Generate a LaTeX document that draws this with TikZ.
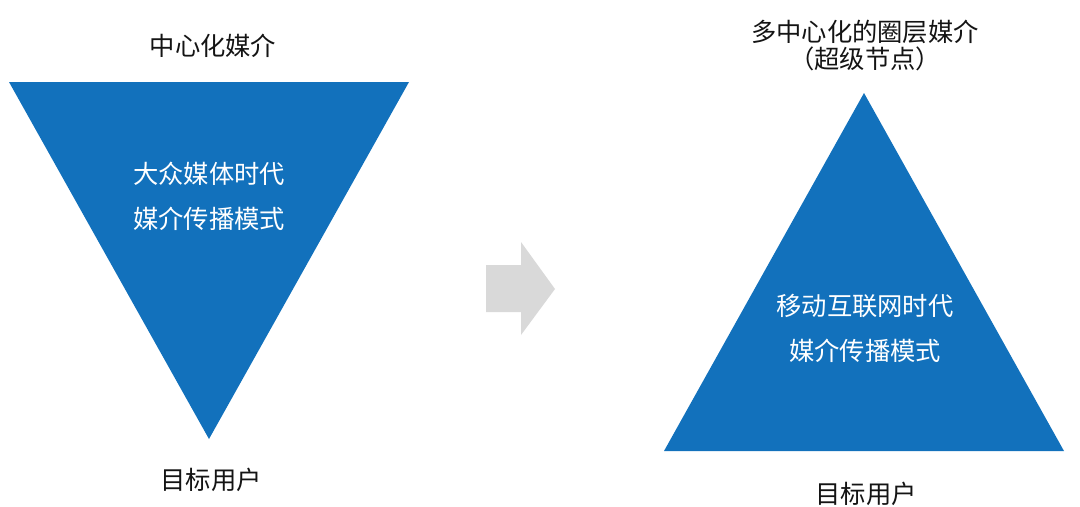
\documentclass[tikz,border=0pt]{standalone}
\usepackage{fontspec}
\newfontfamily\cjk{Noto Sans CJK SC}

\begin{document}
\begin{tikzpicture}
			[x=0.025cm,y=-0.025cm,line cap=round,
			%Styles
			label text/.style={font=\cjk\fontsize{18}{19.2}\selectfont,text=captioncolor,align=center,inner sep=0pt},
			inner text/.style={font=\cjk\fontsize{18}{32}\selectfont,text=white,align=center,inner sep=0pt},
			funnel/.style={fill=mediablue},
			shift arrow/.style={fill=arrowgrey}
			]
			
			%Colors
			\definecolor{mediablue}{RGB}{18,113,188}	%triangles
			\definecolor{arrowgrey}{RGB}{217,217,217}	%middle arrow
			\definecolor{captioncolor}{RGB}{20,20,20}	%outer texts
			
			\useasboundingbox (0,0) rectangle (1080,507);
			
			%The graphic
			\fill[funnel] (9,82) -- (409,82) -- (209,439) -- cycle;
			\fill[funnel] (864,93) -- (1064,451) -- (664,451) -- cycle;
			\fill[shift arrow] (486,265) -- (521,265) -- (521,242) -- (555,289) -- (521,335) -- (521,312) -- (486,312) -- cycle;
			
			\node[label text] (central) at (213,46) {中心化媒介};
			\node[inner text] (massmode) at (209,196) {大众媒体时代\\媒介传播模式};
			\node[label text] (leftusers) at (211,480) {目标用户};
			
			\node[label text] (multicentral) at (865,45.5) {多中心化的圈层媒介\\（超级节点）};
			\node[inner text] (mobilemode) at (865,328) {移动互联网时代\\媒介传播模式};
			\node[label text] (rightusers) at (866,494) {目标用户};
		\end{tikzpicture}
\end{document}
